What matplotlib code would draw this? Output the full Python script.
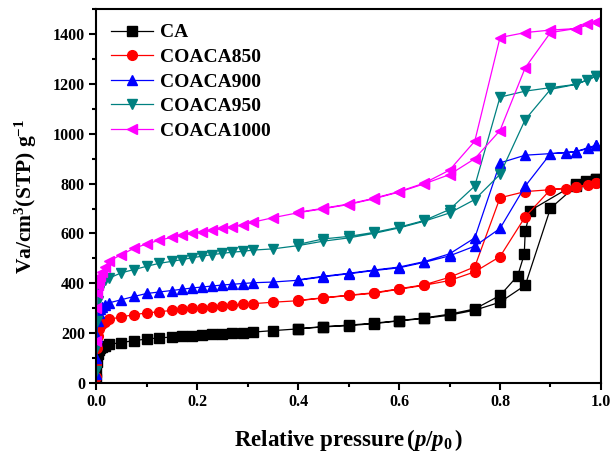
import matplotlib
matplotlib.use("Agg")
import matplotlib.pyplot as plt
import numpy as np

plt.rcParams['font.family'] = ['Liberation Serif', 'DejaVu Serif']
plt.rcParams['font.weight'] = 'bold'
plt.rcParams['mathtext.fontset'] = 'custom'
plt.rcParams['mathtext.rm'] = 'Liberation Serif:bold'
plt.rcParams['mathtext.bf'] = 'Liberation Serif:bold'
plt.rcParams['mathtext.it'] = 'Liberation Serif:italic:bold'

# Relative pressure grid of the adsorption branch
p_ads = [0.0003, 0.0008, 0.0015, 0.003, 0.005, 0.008, 0.012, 0.018,
         0.025, 0.05, 0.075, 0.1, 0.125, 0.15, 0.17, 0.19, 0.21, 0.23,
         0.25, 0.27, 0.29, 0.31, 0.35, 0.4, 0.45, 0.5, 0.55, 0.6, 0.65,
         0.7, 0.75, 0.8, 0.85, 0.9, 0.95, 0.99]

labels = ["CA", "COACA850", "COACA900", "COACA950", "COACA1000"]
colors = ["#000000", "#FF0000", "#0000FF", "#008080", "#FF00FF"]
markers = ["s", "o", "^", "v", "<"]

# Adsorbed volume, adsorption branch
ca_ads = [15, 45, 85, 115, 132, 140, 145, 150,
          155, 162, 170, 176, 181, 184, 187, 190, 193, 196,
          198, 200, 202, 204, 210, 217, 225, 230, 238, 249, 259,
          272, 292, 324, 392, 701, 790, 818]
c850_ads = [25, 75, 140, 190, 215, 228, 238, 246,
            255, 265, 274, 281, 286, 291, 295, 299, 302, 306,
            309, 312, 315, 318, 324, 330, 341, 351, 360, 376, 392,
            411, 446, 507, 667, 776, 786, 803]
c900_ads = [35, 100, 185, 250, 280, 295, 305, 313,
            321, 334, 347, 359, 365, 371, 376, 381, 385, 389,
            393, 396, 399, 402, 405, 412, 426, 438, 451, 462, 484,
            510, 549, 620, 790, 920, 928, 954]
c950_ads = [50, 140, 250, 330, 370, 392, 405, 414,
            420, 442, 455, 468, 480, 488, 495, 502, 509, 515,
            520, 525, 528, 533, 538, 551, 569, 582, 600, 622, 649,
            682, 736, 837, 1057, 1178, 1198, 1231]
c1000_ads = [170, 300, 360, 395, 415, 430, 447, 467,
             488, 515, 540, 558, 572, 585, 593, 601, 606, 613,
             620, 627, 633, 645, 663, 683, 699, 716, 739, 766, 799,
             836, 900, 1013, 1265, 1406, 1422, 1448]

# Desorption branches
ca_des_p = [0.99, 0.97, 0.95, 0.86, 0.85, 0.848, 0.835, 0.8, 0.75, 0.7,
            0.65, 0.6, 0.55, 0.5, 0.45, 0.4]
ca_des = [820, 810, 799, 692, 609, 516, 430, 351, 297, 276,
          261, 250, 240, 232, 226, 218]
c850_des_p = [0.99, 0.975, 0.95, 0.93, 0.85, 0.8, 0.75, 0.7, 0.65, 0.6,
              0.55, 0.5, 0.45, 0.4]
c850_des = [803, 794, 786, 780, 768, 743, 466, 424, 394, 378,
            362, 352, 342, 331]
c900_des_p = [0.99, 0.975, 0.95, 0.93, 0.85, 0.8, 0.75, 0.7, 0.65, 0.6,
              0.55, 0.5, 0.45, 0.4]
c900_des = [954, 941, 928, 924, 914, 883, 582, 518, 487, 465,
            453, 440, 428, 414]
c950_des_p = [0.99, 0.973, 0.95, 0.9, 0.85, 0.8, 0.75, 0.7, 0.65, 0.6,
              0.55, 0.5, 0.45, 0.4]
c950_des = [1231, 1215, 1198, 1185, 1171, 1147, 790, 696, 652, 625,
            604, 588, 578, 556]
c1000_des_p = [0.99, 0.973, 0.95, 0.9, 0.85, 0.8, 0.75, 0.7, 0.65, 0.6,
               0.55, 0.5, 0.45, 0.4]
c1000_des = [1448, 1439, 1422, 1416, 1406, 1386, 970, 854, 802, 768,
             741, 718, 701, 685]

ads = [ca_ads, c850_ads, c900_ads, c950_ads, c1000_ads]
des_p = [ca_des_p, c850_des_p, c900_des_p, c950_des_p, c1000_des_p]
des = [ca_des, c850_des, c900_des, c950_des, c1000_des]

fig = plt.figure(figsize=(6.12, 4.57), dpi=100)
ax = fig.add_axes([0.157, 0.162, 0.825, 0.818])

for lab, col, mk, va, dp, dv in zip(labels, colors, markers, ads, des_p, des):
    x = list(p_ads) + list(dp)
    y = list(va) + list(dv)
    ax.plot(x, y, color=col, marker=mk, markersize=7, linewidth=0.9,
            label=lab)

ax.set_xlim(0, 1.0)
ax.set_ylim(0, 1500)
ax.set_xticks(np.arange(0, 1.01, 0.2))
ax.set_xticks(np.arange(0, 1.01, 0.1), minor=True)
ax.set_yticks(np.arange(0, 1401, 200))
ax.set_yticks(np.arange(0, 1501, 100), minor=True)
ax.xaxis.set_major_formatter(matplotlib.ticker.FormatStrFormatter('%.1f'))

ax.tick_params(which='both', direction='out', top=False, right=False,
               width=1.5)
ax.tick_params(which='major', length=5, labelsize=11.5, pad=3)
ax.tick_params(which='minor', length=3)
for lbl in ax.get_xticklabels() + ax.get_yticklabels():
    lbl.set_fontweight('bold')
for s in ax.spines.values():
    s.set_linewidth(1.5)

ax.set_xlabel(r"Relative pressure$\,($$\mathit{p}$/$\mathit{p}_0$$\,)$",
              fontsize=16.5, fontweight='bold', labelpad=12)
ax.set_ylabel(r"Va/cm$^3$(STP) g$^{-1}$", fontsize=15.5, fontweight='bold',
              labelpad=10)

leg = ax.legend(loc='upper left', frameon=False, fontsize=14,
                handlelength=2.2, handletextpad=0.35, labelspacing=0.36,
                borderaxespad=0.35, bbox_to_anchor=(0.0, 1.0))
for t in leg.get_texts():
    t.set_fontweight('bold')

fig.savefig("out.png", dpi=100)
